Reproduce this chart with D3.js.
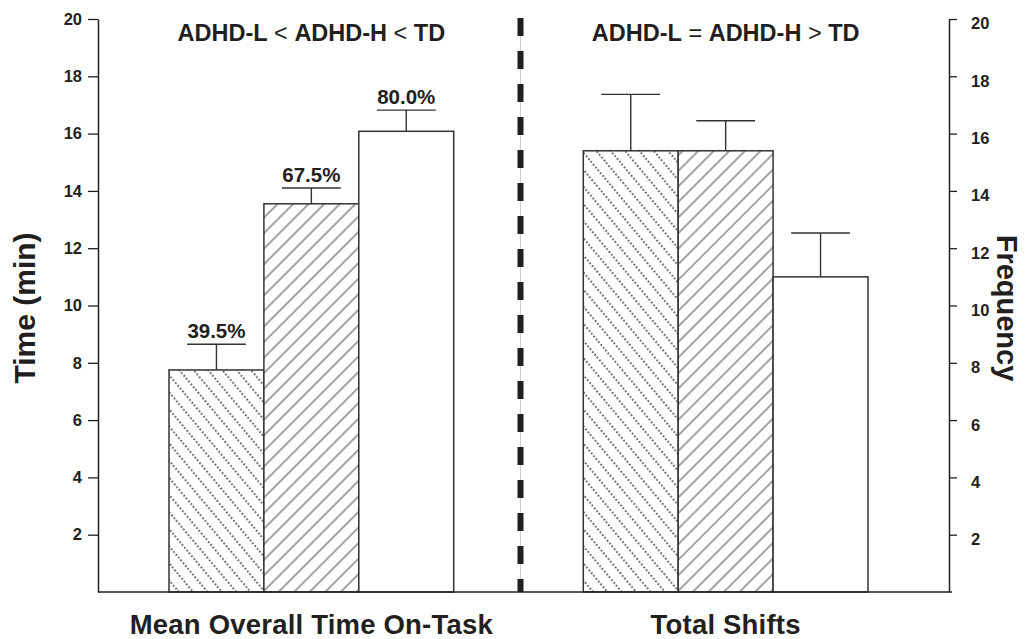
<!DOCTYPE html>
<html>
<head>
<meta charset="utf-8">
<script src="https://cdn.jsdelivr.net/npm/d3@7"></script>
<style>
  html, body { margin: 0; padding: 0; background: #fff; }
  svg { display: block; font-family: "Liberation Sans", Arial, Helvetica, sans-serif; }
</style>
</head>
<body>
<svg id="chart" width="1025" height="639"></svg>
<script>
// ---------- data ----------
const categories = ["Mean Overall Time On-Task", "Total Shifts"];
const groups = ["ADHD-L", "ADHD-H", "TD"];
const timeMeans = [7.75, 13.55, 16.08];
const timeErrors = [0.9, 0.55, 0.74];
const shiftMeans = [15.4, 15.4, 11.0];
const shiftErrors = [1.97, 1.05, 1.53];
const percentLabels = ["39.5%", "67.5%", "80.0%"];
const yTickValues = [2, 4, 6, 8, 10, 12, 14, 16, 18, 20];
const leftComparison = [["ADHD-L", true], [" < ", false], ["ADHD-H", true], [" < ", false], ["TD", true]];
const rightComparison = [["ADHD-L", true], [" = ", false], ["ADHD-H", true], [" > ", false], ["TD", true]];
const leftAxisTitle = "Time (min)";
const rightAxisTitle = "Frequency";

// ---------- layout ----------
const ink = "#231f20";
const svg = d3.select("#chart");
const axisLeftX = 98, axisRightX = 949;
const yTop = 19, yBottom = 592;

const yLeft = d3.scaleLinear().domain([0, 20]).range([yBottom, yTop]);
const yRight = d3.scaleLinear().domain([0, 20]).range([yBottom, yTop]);

const x0 = d3.scaleBand().domain(categories).range([169, 868]).paddingInner(0.3128).paddingOuter(0);
const x1 = d3.scaleBand().domain(groups).range([0, x0.bandwidth()]).padding(0);

// ---------- patterns ----------
const defs = svg.append("defs");
const pDot = defs.append("pattern")
  .attr("id", "hatchDots").attr("patternUnits", "userSpaceOnUse")
  .attr("width", 11).attr("height", 11)
  .attr("patternTransform", "rotate(-40)");
pDot.append("rect").attr("width", 11).attr("height", 11).attr("fill", "#fff");
pDot.append("line").attr("x1", 1).attr("y1", 0).attr("x2", 1).attr("y2", 11)
  .attr("stroke", "#000").attr("stroke-width", 1.4).attr("stroke-dasharray", "1.5,2.17");

const pLine = defs.append("pattern")
  .attr("id", "hatchLines").attr("patternUnits", "userSpaceOnUse")
  .attr("width", 11).attr("height", 11)
  .attr("patternTransform", "rotate(45)");
pLine.append("rect").attr("width", 11).attr("height", 11).attr("fill", "#fff");
pLine.append("line").attr("x1", 1).attr("y1", -1).attr("x2", 1).attr("y2", 12)
  .attr("stroke", "#333").attr("stroke-width", 0.9);

const fills = { "ADHD-L": "url(#hatchDots)", "ADHD-H": "url(#hatchLines)", "TD": "#fff" };

// ---------- separator ----------
const sepX = (x0(categories[0]) + x0.bandwidth() + x0(categories[1])) / 2 + 2;
svg.append("line").attr("x1", sepX).attr("x2", sepX).attr("y1", 18).attr("y2", yBottom)
  .attr("stroke", "#cfcfcf").attr("stroke-width", 1);
svg.append("line").attr("x1", sepX).attr("x2", sepX).attr("y1", 18).attr("y2", yBottom)
  .attr("stroke", ink).attr("stroke-width", 6).attr("stroke-dasharray", "18,15");

// ---------- bars ----------
const seriesByCat = [
  { cat: categories[0], means: timeMeans, errs: timeErrors, y: yLeft, labels: percentLabels },
  { cat: categories[1], means: shiftMeans, errs: shiftErrors, y: yRight, labels: null }
];

seriesByCat.forEach(s => {
  const g = svg.append("g").attr("transform", `translate(${x0(s.cat)},0)`);
  groups.forEach((grp, i) => {
    const bx = x1(grp), bw = x1.bandwidth();
    const top = s.y(s.means[i]);
    const capY = s.y(s.means[i] + s.errs[i]);
    const cx = bx + bw / 2;
    g.append("line").attr("x1", cx).attr("x2", cx).attr("y1", top).attr("y2", capY)
      .attr("stroke", "#333").attr("stroke-width", 1.4);
    g.append("line").attr("x1", cx - bw * 0.31).attr("x2", cx + bw * 0.31).attr("y1", capY).attr("y2", capY)
      .attr("stroke", "#333").attr("stroke-width", 1.4);
    g.append("rect").attr("x", bx).attr("y", top).attr("width", bw).attr("height", s.y(0) - top)
      .attr("fill", fills[grp]).attr("stroke", "#333").attr("stroke-width", 1.5);
    if (s.labels) {
      g.append("text").attr("x", cx).attr("y", capY - 6).attr("text-anchor", "middle")
        .style("font-size", "20.5px").style("font-weight", "bold").attr("fill", ink)
        .text(s.labels[i]);
    }
  });
});

// ---------- axes ----------
const axL = svg.append("g").attr("transform", `translate(${axisLeftX},0)`)
  .call(d3.axisLeft(yLeft).tickValues(yTickValues).tickSize(10).tickSizeOuter(0).tickPadding(6));
const axR = svg.append("g").attr("transform", `translate(${axisRightX},0)`)
  .call(d3.axisRight(yRight).tickValues(yTickValues).tickSize(8).tickSizeOuter(0).tickPadding(14));
[axL, axR].forEach(a => {
  a.attr("font-family", null).attr("font-size", null);
  a.select(".domain").attr("stroke", ink).attr("stroke-width", 1.5);
  a.selectAll(".tick line").attr("stroke", ink).attr("stroke-width", 1.3);
  a.selectAll(".tick text")
    .style("font-size", "16.5px").style("font-weight", "bold")
    .style("font-family", "'Liberation Sans', Arial, sans-serif")
    .attr("fill", ink);
});
axR.selectAll(".tick text").attr("dy", "0.6em");

// baseline
svg.append("line").attr("x1", axisLeftX).attr("x2", axisRightX + 3)
  .attr("y1", yLeft(0)).attr("y2", yLeft(0)).attr("stroke", ink).attr("stroke-width", 1.6);

// ---------- comparison headers ----------
function comparison(parts, cat) {
  const t = svg.append("text").attr("x", x0(cat) + x0.bandwidth() / 2).attr("y", 41)
    .attr("text-anchor", "middle").style("font-size", "23.5px").attr("fill", ink)
    .style("white-space", "pre");
  parts.forEach(([txt, bold]) => {
    t.append("tspan").style("font-weight", bold ? "bold" : "normal").text(txt);
  });
}
comparison(leftComparison, categories[0]);
comparison(rightComparison, categories[1]);

// ---------- category labels ----------
svg.selectAll(".catLabel").data(categories).enter().append("text")
  .attr("class", "catLabel")
  .attr("x", d => x0(d) + x0.bandwidth() / 2).attr("y", 634)
  .attr("text-anchor", "middle").style("font-size", "27.5px").style("font-weight", "bold")
  .attr("letter-spacing", 0.2).attr("fill", ink).text(d => d);

// ---------- axis titles ----------
svg.append("text").attr("transform", "translate(35,308) rotate(-90)")
  .attr("text-anchor", "middle").style("font-size", "30px").style("font-weight", "bold")
  .attr("fill", ink).text(leftAxisTitle);
svg.append("text").attr("transform", "translate(997,308) rotate(90)")
  .attr("text-anchor", "middle").style("font-size", "29px").style("font-weight", "bold")
  .attr("fill", ink).text(rightAxisTitle);
</script>
</body>
</html>
